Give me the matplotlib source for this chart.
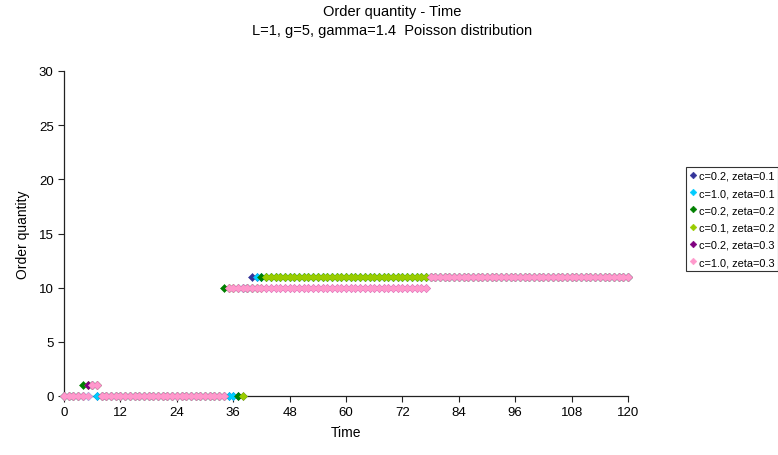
import numpy as np
import matplotlib
matplotlib.use("Agg")
import matplotlib.pyplot as plt

plt.rcParams['font.family'] = ['Liberation Sans', 'DejaVu Sans']

# time axis: one point per period
time = np.arange(0, 121)

# each series as runs of (first t, last t, order quantity)
labels = ["c=0.2, zeta=0.1", "c=1.0, zeta=0.1", "c=0.2, zeta=0.2",
          "c=0.1, zeta=0.2", "c=0.2, zeta=0.3", "c=1.0, zeta=0.3"]
colors = ["#333399", "#00CCFF", "#008000", "#99CC00", "#800080", "#FF99CC"]

runs_c02_z01 = [(0, 5, 0), (6, 6, 1), (7, 38, 0), (39, 39, 10), (40, 120, 11)]
runs_c10_z01 = [(0, 5, 0), (6, 6, 1), (7, 36, 0), (37, 40, 10), (41, 120, 11)]
runs_c02_z02 = [(0, 3, 0), (4, 7, 1), (8, 33, 0), (34, 36, 10), (37, 37, 0),
                (38, 41, 10), (42, 120, 11)]
runs_c01_z02 = [(0, 4, 0), (5, 7, 1), (8, 34, 0), (35, 37, 10), (38, 38, 0),
                (39, 42, 10), (43, 120, 11)]
runs_c02_z03 = [(0, 4, 0), (5, 7, 1), (8, 34, 0), (35, 77, 10), (78, 120, 11)]
runs_c10_z03 = [(0, 5, 0), (6, 7, 1), (8, 34, 0), (35, 77, 10), (78, 120, 11)]

all_runs = [runs_c02_z01, runs_c10_z01, runs_c02_z02,
            runs_c01_z02, runs_c02_z03, runs_c10_z03]


def expand(runs):
    q = np.zeros(len(time))
    for a, b, v in runs:
        q[a:b + 1] = v
    return q


fig = plt.figure(figsize=(7.78, 4.56), dpi=100)
ax = fig.add_axes([64 / 778, 59 / 456, 564 / 778, 325 / 456])

handles = []
for runs, lab, col in zip(all_runs, labels, colors):
    h, = ax.plot(time, expand(runs), linestyle='none', marker='D',
                 markersize=4.0, markeredgewidth=0.4, markeredgecolor=col,
                 color=col, label=lab, clip_on=False, zorder=3)
    handles.append(h)

ax.set_xlim(0, 120)
ax.set_ylim(0, 30)
ax.set_xticks(np.arange(0, 121, 12))
ax.set_yticks(np.arange(0, 31, 5))
ax.spines['top'].set_visible(False)
ax.spines['right'].set_visible(False)
for s in ['left', 'bottom']:
    ax.spines[s].set_color('#222222')
    ax.spines[s].set_linewidth(0.9)
ax.tick_params(direction='out', length=4, width=0.8, labelsize=9.5,
               colors='#222222', labelcolor='black')
ax.set_xlabel("Time", fontsize=10, labelpad=5)
ax.set_ylabel("Order quantity", fontsize=10, labelpad=6)

fig.text(392 / 778, 1 - 12 / 456, "Order quantity - Time", ha='center',
         va='center', fontsize=10.5)
fig.text(392 / 778, 1 - 31 / 456, "L=1, g=5, gamma=1.4  Poisson distribution",
         ha='center', va='center', fontsize=10.5)

leg = fig.legend(handles=handles, loc='upper left',
                 bbox_to_anchor=(686 / 778, 1 - 168 / 456), fontsize=7.9,
                 frameon=True, fancybox=False, edgecolor='black',
                 borderpad=0.35, labelspacing=0.66, handlelength=0.5,
                 handletextpad=0.3, borderaxespad=0, markerscale=0.85)
leg.get_frame().set_linewidth(0.8)

fig.savefig("out.png", dpi=100)
